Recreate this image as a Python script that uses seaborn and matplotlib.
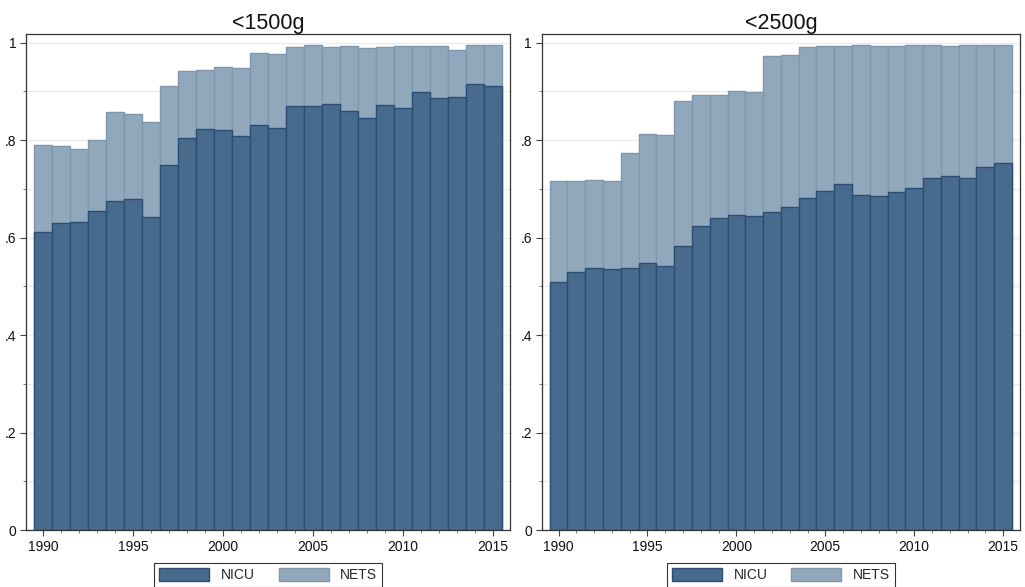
import pandas as pd
import matplotlib.pyplot as plt
import seaborn as sns
from matplotlib.patches import Patch
from matplotlib.ticker import MultipleLocator, FixedLocator, FuncFormatter

years = list(range(1990, 2016))

# share of births in counties with a NICU, and with NICU or NETS (stack top)
nicu_1500 = [0.611, 0.629, 0.631, 0.655, 0.674, 0.679, 0.642, 0.748, 0.804, 0.822,
             0.821, 0.808, 0.831, 0.824, 0.869, 0.869, 0.873, 0.860, 0.845, 0.871,
             0.866, 0.899, 0.886, 0.888, 0.915, 0.910]
total_1500 = [0.790, 0.788, 0.782, 0.801, 0.858, 0.853, 0.837, 0.911, 0.942, 0.944,
              0.949, 0.947, 0.978, 0.976, 0.991, 0.994, 0.991, 0.992, 0.988, 0.991,
              0.992, 0.993, 0.992, 0.984, 0.994, 0.994]

nicu_2500 = [0.509, 0.530, 0.537, 0.536, 0.537, 0.548, 0.542, 0.583, 0.623, 0.640,
             0.647, 0.645, 0.652, 0.662, 0.681, 0.695, 0.710, 0.688, 0.686, 0.693,
             0.702, 0.723, 0.726, 0.722, 0.744, 0.753]
total_2500 = [0.716, 0.716, 0.719, 0.717, 0.774, 0.812, 0.810, 0.880, 0.893, 0.893,
              0.901, 0.899, 0.972, 0.974, 0.991, 0.993, 0.993, 0.995, 0.993, 0.993,
              0.995, 0.994, 0.992, 0.994, 0.995, 0.995]

dark, dark_edge = "#486a8c", "#2a4d73"
light, light_edge = "#91a8bc", "#7f97ad"

sns.set_style("ticks")
plt.rcParams['font.family'] = ['Liberation Sans', 'DejaVu Sans']

fig = plt.figure(figsize=(10.25, 5.87), dpi=100)
panels = [("<1500g", nicu_1500, total_1500, [0.0257, 0.0971, 0.4720, 0.8445]),
          ("<2500g", nicu_2500, total_2500, [0.5285, 0.0971, 0.4666, 0.8445])]

for title, nicu, total, rect in panels:
    ax = fig.add_axes(rect)
    df = pd.DataFrame({"year": years, "nicu": nicu, "any": total})
    ax.yaxis.grid(True, which="both", color="#ededed", lw=1)
    ax.set_axisbelow(True)
    sns.barplot(data=df, x="year", y="any", native_scale=True, width=1, color=light,
                saturation=1, edgecolor=light_edge, linewidth=1, ax=ax)
    sns.barplot(data=df, x="year", y="nicu", native_scale=True, width=1, color=dark,
                saturation=1, edgecolor=dark_edge, linewidth=1, ax=ax)

    ax.set_xlim(1989.05, 2015.95)
    ax.set_ylim(0, 1.017)
    ax.xaxis.set_major_locator(FixedLocator([1990, 1995, 2000, 2005, 2010, 2015]))
    ax.xaxis.set_minor_locator(MultipleLocator(1))
    ax.yaxis.set_major_locator(MultipleLocator(0.2))
    ax.yaxis.set_minor_locator(MultipleLocator(0.1))
    ax.yaxis.set_major_formatter(FuncFormatter(
        lambda v, p: "0" if abs(v) < 1e-9 else ("1" if abs(v - 1) < 1e-9 else f"{v:.1f}".lstrip("0"))))
    ax.xaxis.set_major_formatter(FuncFormatter(lambda v, p: f"{int(round(v))}"))
    ax.tick_params(which="major", length=4, width=0.8, color="#444444", labelsize=10,
                   labelcolor="#111111", pad=3)
    ax.tick_params(which="minor", length=2.5, width=0.6, color="#666666")
    ax.set_xlabel("")
    ax.set_ylabel("")
    for s in ax.spines.values():
        s.set_color("#333333")
        s.set_linewidth(0.9)
    ax.set_title(title, fontsize=15.5, pad=3, color="#111111")

    handles = [Patch(facecolor=dark, edgecolor=dark_edge, label="NICU"),
               Patch(facecolor=light, edgecolor=light_edge, label="NETS")]
    leg = ax.legend(handles=handles, loc="upper center", bbox_to_anchor=(0.5, -0.052),
                    ncol=2, frameon=True, fancybox=False, edgecolor="black",
                    handlelength=3.6, handleheight=1.1, handletextpad=0.85,
                    columnspacing=1.7, borderpad=0.35, fontsize=10)
    leg.get_frame().set_linewidth(0.8)

fig.savefig("out.png", dpi=100)
